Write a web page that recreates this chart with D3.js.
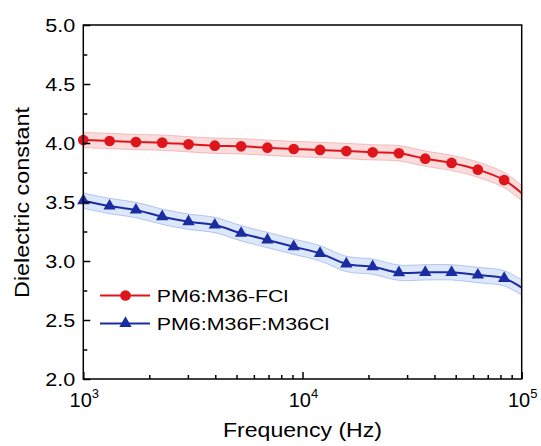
<!DOCTYPE html>
<html>
<head>
<meta charset="utf-8">
<script src="https://cdn.jsdelivr.net/npm/d3@7/dist/d3.min.js"></script>
<style>
  html, body { margin: 0; padding: 0; background: #fff; }
  svg { display: block; font-family: Arial, "Liberation Sans", Helvetica, sans-serif; }
</style>
</head>
<body>
<svg id="chart" width="541" height="446"></svg>
<script>
// Measurement frequencies (Hz); the last entry only extends the curve to 1e5
const freqHz = [1000, 1318, 1738, 2291, 3020, 3981, 5248, 6918, 9120, 12023,
                15849, 20893, 27542, 36308, 47863, 63096, 83176, 100000];
const markerCount = 17;

// Dielectric constant for each blend
const fclValues = [4.025, 4.017, 4.008, 4.003, 3.989, 3.977, 3.972, 3.960, 3.949,
                   3.941, 3.932, 3.921, 3.913, 3.867, 3.831, 3.774, 3.686, 3.575];
const mixValues = [3.511, 3.466, 3.432, 3.375, 3.333, 3.305, 3.235, 3.178, 3.121,
                   3.065, 2.975, 2.952, 2.901, 2.904, 2.904, 2.881, 2.853, 2.775];

// Half-width of the shaded uncertainty band
const fclSpread = 0.065;
const mixSpread = 0.065;

const seriesNames = ["PM6:M36-FCl", "PM6:M36F:M36Cl"];
const yTickValues = [2.0, 2.5, 3.0, 3.5, 4.0, 4.5, 5.0];
const yMinorValues = [2.25, 2.75, 3.25, 3.75, 4.25, 4.75];
const xTickExponents = [3, 4, 5];

const svg = d3.select("#chart");
const m = { left: 83.3, right: 521.7, top: 25, bottom: 379 };

const x = d3.scaleLog().domain([1e3, 1e5]).range([m.left, m.right]);
const y = d3.scaleLinear().domain([2, 5]).range([m.bottom, m.top]);

const series = [
  { name: seriesNames[0], values: fclValues, spread: fclSpread,
    color: "rgb(222,22,28)", band: "rgba(236,110,110,0.24)", edge: "rgba(230,95,95,0.35)",
    symbol: d3.symbolCircle, size: 90 },
  { name: seriesNames[1], values: mixValues, spread: mixSpread,
    color: "rgb(26,44,162)", band: "rgba(110,155,232,0.24)", edge: "rgba(90,130,220,0.4)",
    symbol: d3.symbolTriangle, size: 66 }
];

const curve = d3.curveCatmullRom.alpha(0.5);
const line = d3.line().x(d => x(d.f)).y(d => y(d.v)).curve(curve);
const area = d3.area().x(d => x(d.f)).y0(d => y(d.v - d.s)).y1(d => y(d.v + d.s)).curve(curve);
const upper = d3.line().x(d => x(d.f)).y(d => y(d.v + d.s)).curve(curve);
const lower = d3.line().x(d => x(d.f)).y(d => y(d.v - d.s)).curve(curve);

// Shaded bands
series.forEach(s => {
  const pts = freqHz.map((f, i) => ({ f, v: s.values[i], s: s.spread }));
  s.pts = pts;
  svg.append("path").datum(pts).attr("d", area).attr("fill", s.band).attr("stroke", "none");
  svg.append("path").datum(pts).attr("d", upper).attr("fill", "none")
    .attr("stroke", s.edge).attr("stroke-width", 1);
  svg.append("path").datum(pts).attr("d", lower).attr("fill", "none")
    .attr("stroke", s.edge).attr("stroke-width", 1);
});

// Lines and markers
series.forEach(s => {
  svg.append("path").datum(s.pts).attr("d", line).attr("fill", "none")
    .attr("stroke", s.color).attr("stroke-width", 2);
  svg.append("g").selectAll("path").data(s.pts.slice(0, markerCount)).join("path")
    .attr("transform", d => `translate(${x(d.f)},${y(d.v)})`)
    .attr("d", d3.symbol().type(s.symbol).size(s.size))
    .attr("fill", s.color);
});

// Frame
svg.append("rect").attr("x", m.left).attr("y", m.top)
  .attr("width", m.right - m.left).attr("height", m.bottom - m.top)
  .attr("fill", "none").attr("stroke", "#000").attr("stroke-width", 1.5);

// Y axis (ticks point inward)
const yAxis = svg.append("g").attr("transform", `translate(${m.left},0)`)
  .call(d3.axisLeft(y).tickValues(yTickValues).tickSize(-7).tickPadding(8)
    .tickFormat(d3.format(".1f")));
yAxis.select(".domain").remove();
yAxis.selectAll(".tick line").attr("stroke-width", 1.5);
yAxis.selectAll(".tick text").attr("font-size", 19).attr("fill", "#000")
  .attr("font-family", "Arial, 'Liberation Sans', sans-serif")
  .attr("dy", "0.36em").attr("textLength", 30).attr("lengthAdjust", "spacingAndGlyphs");

const yMinor = svg.append("g").attr("transform", `translate(${m.left},0)`)
  .call(d3.axisLeft(y).tickValues(yMinorValues).tickSize(-4).tickFormat(""));
yMinor.select(".domain").remove();
yMinor.selectAll(".tick line").attr("stroke-width", 1.5);

// X axis (log, ticks inward)
const xMajor = xTickExponents.map(e => Math.pow(10, e));
const xMinorValues = [];
[3, 4].forEach(e => { for (let k = 2; k <= 9; k++) xMinorValues.push(k * Math.pow(10, e)); });

const xAxis = svg.append("g").attr("transform", `translate(0,${m.bottom})`)
  .call(d3.axisBottom(x).tickValues(xMajor).tickSize(-7).tickFormat(""));
xAxis.select(".domain").remove();
xAxis.selectAll(".tick line").attr("stroke-width", 1.5);

const xMinor = svg.append("g").attr("transform", `translate(0,${m.bottom})`)
  .call(d3.axisBottom(x).tickValues(xMinorValues).tickSize(-4).tickFormat(""));
xMinor.select(".domain").remove();
xMinor.selectAll(".tick line").attr("stroke-width", 1.5);

// Power-of-ten tick labels
const xl = svg.append("g").selectAll("text").data(xTickExponents).join("text")
  .attr("x", e => x(Math.pow(10, e)) + 1)
  .attr("y", 406.5)
  .attr("text-anchor", "middle")
  .attr("font-size", 20)
  .attr("fill", "#000");
xl.append("tspan").text("10");
xl.append("tspan").attr("font-size", 13).attr("dy", -9).text(e => e);

// Axis titles
svg.append("text")
  .attr("x", 302.5).attr("y", 436.5)
  .attr("text-anchor", "middle")
  .attr("font-size", 21)
  .attr("textLength", 159).attr("lengthAdjust", "spacingAndGlyphs")
  .attr("fill", "#000")
  .text("Frequency (Hz)");

svg.append("text")
  .attr("transform", "translate(28.5,202.5) rotate(-90)")
  .attr("text-anchor", "middle")
  .attr("font-size", 20)
  .attr("textLength", 191).attr("lengthAdjust", "spacingAndGlyphs")
  .attr("fill", "#000")
  .text("Dielectric constant");

// Legend
const legendRows = [
  { s: series[0], y: 295.5, w: 131.5 },
  { s: series[1], y: 323.5, w: 172.5 }
];
const lg = svg.append("g").selectAll("g").data(legendRows).join("g");
lg.append("line").attr("x1", 100).attr("x2", 150)
  .attr("y1", d => d.y).attr("y2", d => d.y)
  .attr("stroke", d => d.s.color).attr("stroke-width", 2);
lg.append("path")
  .attr("transform", d => `translate(125.5,${d.y})`)
  .attr("d", d => d3.symbol().type(d.s.symbol).size(d.s.size)())
  .attr("fill", d => d.s.color);
lg.append("text")
  .attr("x", 156.7).attr("y", d => d.y + 6)
  .attr("font-size", 17)
  .attr("textLength", d => d.w).attr("lengthAdjust", "spacingAndGlyphs")
  .attr("fill", "#000")
  .text(d => d.s.name);
</script>
</body>
</html>
